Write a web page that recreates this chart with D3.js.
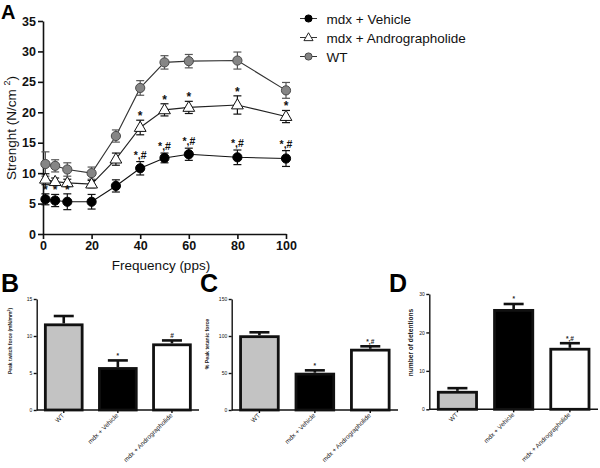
<!DOCTYPE html>
<html><head><meta charset="utf-8">
<script src="https://cdn.jsdelivr.net/npm/d3@7"></script>
<style>body{margin:0;background:#fff}svg{display:block;font-family:Arial,"Liberation Sans",sans-serif}</style>
</head><body><svg id="c" width="600" height="468"></svg>
<script>
// ---------- Panel A data ----------
const freq = [1, 5, 10, 20, 30, 40, 50, 60, 80, 100];
const wtMean = [11.5, 11.2, 10.6, 10.0, 16.1, 24.0, 28.2, 28.4, 28.5, 23.6];
const wtErr = [2.0, 1.0, 1.1, 1.0, 1.0, 1.2, 1.1, 1.1, 1.4, 1.3];
const androMean = [9.0, 8.6, 8.4, 8.2, 12.3, 17.5, 20.4, 20.8, 21.2, 19.3];
const androErr = [0.9, 0.6, 0.6, 0.6, 1.0, 1.2, 1.0, 1.0, 1.5, 1.0];
const vehMean = [5.7, 5.5, 5.3, 5.3, 7.9, 10.8, 12.5, 13.1, 12.6, 12.4];
const vehErr = [0.9, 1.0, 1.3, 1.2, 1.0, 1.1, 0.8, 1.0, 1.2, 1.3];
const androSig = ["", "", "", "", "", "*", "*", "*", "*", "*"];
const vehSig = ["*", "*", "*", "", "", "*,#", "*,#", "*,#", "*,#", "*,#"];
const seriesNames = ["mdx + Vehicle", "mdx + Andrographolide", "WT"];
const aYTicks = [0, 5, 10, 15, 20, 25, 30, 35];
const aXTicks = [0, 20, 40, 60, 80, 100];

// ---------- Bar panels data ----------
const groups = ["WT", "mdx + Vehicle", "mdx + Andrographolide"];
const twitch = [11.7, 5.8, 9.0];
const twitchErr = [1.0, 0.9, 0.4];
const twitchSig = ["", "*", "#"];
const twitchTicks = [0, 5, 10, 15];
const tetanic = [101, 50.4, 82.8];
const tetanicErr = [4.0, 3.2, 3.3];
const tetanicSig = ["", "*", "*,#"];
const tetanicTicks = [0, 50, 100, 150];
const detent = [4.8, 26.1, 16.0];
const detentErr = [0.7, 1.3, 1.2];
const detentSig = ["", "*", "*,#"];
const detentTicks = [0, 10, 20, 30];

const svg = d3.select("#c");
svg.append("rect").attr("width", 600).attr("height", 468).attr("fill", "#fff");

// ================= Panel A =================
const xA = d3.scaleLinear().domain([0, 100]).range([43, 286]);
const yA = d3.scaleLinear().domain([0, 35]).range([234, 21]);
const gA = svg.append("g");

function styleAxis(g, sw, fs, bold) {
  g.selectAll("path,line").attr("stroke", "#111").attr("stroke-width", sw);
  g.selectAll("text").attr("fill", "#111").style("font-size", fs + "px")
    .style("font-weight", bold ? "bold" : "normal").style("font-family", "Arial, 'Liberation Sans', sans-serif");
}

const axYA = gA.append("g").attr("transform", "translate(43,0)")
  .call(d3.axisLeft(yA).tickValues(aYTicks).tickSize(5).tickSizeOuter(0).tickPadding(2));
styleAxis(axYA, 1.6, 12.5, true);
const axXA = gA.append("g").attr("transform", "translate(0,234)")
  .call(d3.axisBottom(xA).tickValues(aXTicks).tickSize(5).tickSizeOuter(0).tickPadding(2));
styleAxis(axXA, 1.6, 12.5, true);

gA.append("text").attr("x", 161).attr("y", 270).attr("text-anchor", "middle")
  .style("font-size", "13.5px").attr("fill", "#111").text("Frequency (pps)");
const yl = gA.append("text").attr("transform", "translate(16,128) rotate(-90)")
  .attr("text-anchor", "middle").style("font-size", "13.5px").attr("fill", "#111");
yl.append("tspan").text("Strenght (N/cm ");
yl.append("tspan").attr("dy", -6).style("font-size", "9px").text("2");
yl.append("tspan").attr("dy", 6).text(")");

gA.append("text").attr("x", 1).attr("y", 18.5).style("font-size", "20px").style("font-weight", "bold").text("A");

const series = [
  {name: seriesNames[2], mean: wtMean, err: wtErr, sig: null, shape: "circle", fill: "#858585", stroke: "#4a4a4a", line: "#333"},
  {name: seriesNames[1], mean: androMean, err: androErr, sig: androSig, shape: "tri", fill: "#fff", stroke: "#111", line: "#222"},
  {name: seriesNames[0], mean: vehMean, err: vehErr, sig: vehSig, shape: "circle", fill: "#000", stroke: "#000", line: "#111"}
];
const triSym = d3.symbol().type(d3.symbolTriangle).size(60);
const triSymL = d3.symbol().type(d3.symbolTriangle).size(36);

series.forEach(s => {
  const pts = freq.map((f, i) => ({f, m: s.mean[i], e: s.err[i], sig: s.sig ? s.sig[i] : ""}));
  const g = gA.append("g");
  g.append("path").datum(pts).attr("fill", "none").attr("stroke", s.line).attr("stroke-width", 1.1)
    .attr("d", d3.line().x(d => xA(d.f)).y(d => yA(d.m)));
  const eb = g.selectAll(".eb").data(pts).join("g").attr("stroke", s.stroke === "#4a4a4a" ? "#555" : "#111").attr("stroke-width", 1.2);
  eb.append("line").attr("x1", d => xA(d.f)).attr("x2", d => xA(d.f)).attr("y1", d => yA(d.m + d.e)).attr("y2", d => yA(d.m - d.e));
  eb.append("line").attr("x1", d => xA(d.f) - 4).attr("x2", d => xA(d.f) + 4).attr("y1", d => yA(d.m + d.e)).attr("y2", d => yA(d.m + d.e));
  eb.append("line").attr("x1", d => xA(d.f) - 4).attr("x2", d => xA(d.f) + 4).attr("y1", d => yA(d.m - d.e)).attr("y2", d => yA(d.m - d.e));
  if (s.shape === "circle") {
    g.selectAll(".pt").data(pts).join("circle").attr("cx", d => xA(d.f)).attr("cy", d => yA(d.m)).attr("r", 4.6)
      .attr("fill", s.fill).attr("stroke", s.stroke).attr("stroke-width", 1);
  } else {
    g.selectAll(".pt").data(pts).join("path").attr("d", triSym)
      .attr("transform", d => `translate(${xA(d.f)},${yA(d.m) + 0.5})`)
      .attr("fill", s.fill).attr("stroke", s.stroke).attr("stroke-width", 1);
  }
  g.selectAll(".sig").data(pts.filter(d => d.sig)).join("text")
    .attr("x", d => xA(d.f)).attr("y", d => yA(d.m + d.e) - (d.sig.length > 1 ? 3 : 0))
    .attr("text-anchor", "middle").style("font-size", d => d.sig.length > 1 ? "10.5px" : "12px")
    .style("font-weight", "bold").attr("fill", "#111")
    .text(d => d.sig);
});

// Legend
const legRows = [
  {name: seriesNames[0], shape: "circle", fill: "#000", stroke: "#000"},
  {name: seriesNames[1], shape: "tri", fill: "#fff", stroke: "#111"},
  {name: seriesNames[2], shape: "circle", fill: "#858585", stroke: "#4a4a4a"}
];
const leg = gA.append("g");
legRows.forEach((r, i) => {
  const y = 18.5 + i * 19;
  leg.append("line").attr("x1", 300).attr("x2", 317).attr("y1", y).attr("y2", y).attr("stroke", "#333").attr("stroke-width", 1);
  if (r.shape === "circle") leg.append("circle").attr("cx", 308.5).attr("cy", y).attr("r", 3.6).attr("fill", r.fill).attr("stroke", r.stroke);
  else leg.append("path").attr("d", triSymL).attr("transform", `translate(308.5,${y + 0.5})`).attr("fill", r.fill).attr("stroke", r.stroke).attr("stroke-width", 0.9);
  leg.append("text").attr("x", 326.5).attr("y", y + 5).style("font-size", "13.5px").attr("fill", "#111").text(r.name);
});

// ================= Bar panels =================
const barFills = ["#c3c3c3", "#000", "#fff"];
function barPanel(opt) {
  const g = svg.append("g");
  const x = d3.scaleBand().domain(groups).range([opt.x0, opt.x1]).paddingInner(0.32).paddingOuter(0.16);
  const y = d3.scaleLinear().domain([0, opt.ticks[opt.ticks.length - 1]]).range([opt.yb, opt.yt]);
  const ax = g.append("g").attr("transform", `translate(${opt.x0},0)`)
    .call(d3.axisLeft(y).tickValues(opt.ticks).tickSize(3).tickSizeOuter(0).tickPadding(1.5));
  styleAxis(ax, 1.4, 5, false);
  const bx = g.append("g").attr("transform", `translate(0,${opt.yb})`)
    .call(d3.axisBottom(x).tickSize(3).tickSizeOuter(0));
  bx.select(".domain").attr("d", `M${opt.x0},0H${opt.x1}`);
  styleAxis(bx, 1.4, 6.4, false);
  bx.selectAll("text").attr("text-anchor", "end").attr("dy", 0).attr("y", 0)
    .attr("transform", "translate(1,6) rotate(-45)").attr("fill", "#222");
  // error bars (upwards)
  const cx = d => x(d.g) + x.bandwidth() / 2;
  const data = groups.map((gname, i) => ({g: gname, v: opt.vals[i], e: opt.errs[i], s: opt.sig[i], fill: barFills[i]}));
  g.selectAll(".stem").data(data).join("line").attr("x1", cx).attr("x2", cx)
    .attr("y1", d => y(d.v)).attr("y2", d => y(d.v + d.e)).attr("stroke", "#111").attr("stroke-width", 2.6);
  g.selectAll(".cap").data(data).join("line").attr("x1", d => cx(d) - 10).attr("x2", d => cx(d) + 10)
    .attr("y1", d => y(d.v + d.e)).attr("y2", d => y(d.v + d.e)).attr("stroke", "#111").attr("stroke-width", 2.6);
  g.selectAll(".bar").data(data).join("rect").attr("x", d => x(d.g)).attr("width", x.bandwidth())
    .attr("y", d => y(d.v) + 1.4).attr("height", d => y(0) - y(d.v) - 1.4)
    .attr("fill", d => d.fill).attr("stroke", "#111").attr("stroke-width", 2.8);
  g.selectAll(".sig").data(data.filter(d => d.s)).join("text")
    .attr("x", cx).attr("y", d => y(d.v + d.e) - 2.5).attr("text-anchor", "middle")
    .style("font-size", "6.5px").style("font-weight", "bold").attr("fill", "#222").text(d => d.s);
  g.append("text").attr("transform", `translate(${opt.lx},${opt.ly}) rotate(-90)`).attr("text-anchor", "middle")
    .style("font-size", opt.lfs + "px").style("font-weight", "bold").attr("fill", "#222").html(opt.label);
  g.append("text").attr("x", opt.px).attr("y", 292).style("font-size", "25px").style("font-weight", "bold").attr("fill", "#000").text(opt.panel);
}

barPanel({panel: "B", px: 1, x0: 36.7, x1: 199, yt: 299, yb: 410, ticks: twitchTicks, vals: twitch, errs: twitchErr, sig: twitchSig,
  lx: 12, ly: 341, lfs: 5, label: 'Peak twitch force (mN/mm<tspan dy="-2" font-size="3.5px">2</tspan><tspan dy="2">)</tspan>'});
barPanel({panel: "C", px: 200, x0: 231.7, x1: 398, yt: 299, yb: 410, ticks: tetanicTicks, vals: tetanic, errs: tetanicErr, sig: tetanicSig,
  lx: 209, ly: 344, lfs: 5.2, label: "% Peak tetanic force"});
barPanel({panel: "D", px: 389, x0: 429.3, x1: 598, yt: 294, yb: 409.3, ticks: detentTicks, vals: detent, errs: detentErr, sig: detentSig,
  lx: 413, ly: 342.5, lfs: 6.6, label: "number of detentions"});
</script>
</body></html>
